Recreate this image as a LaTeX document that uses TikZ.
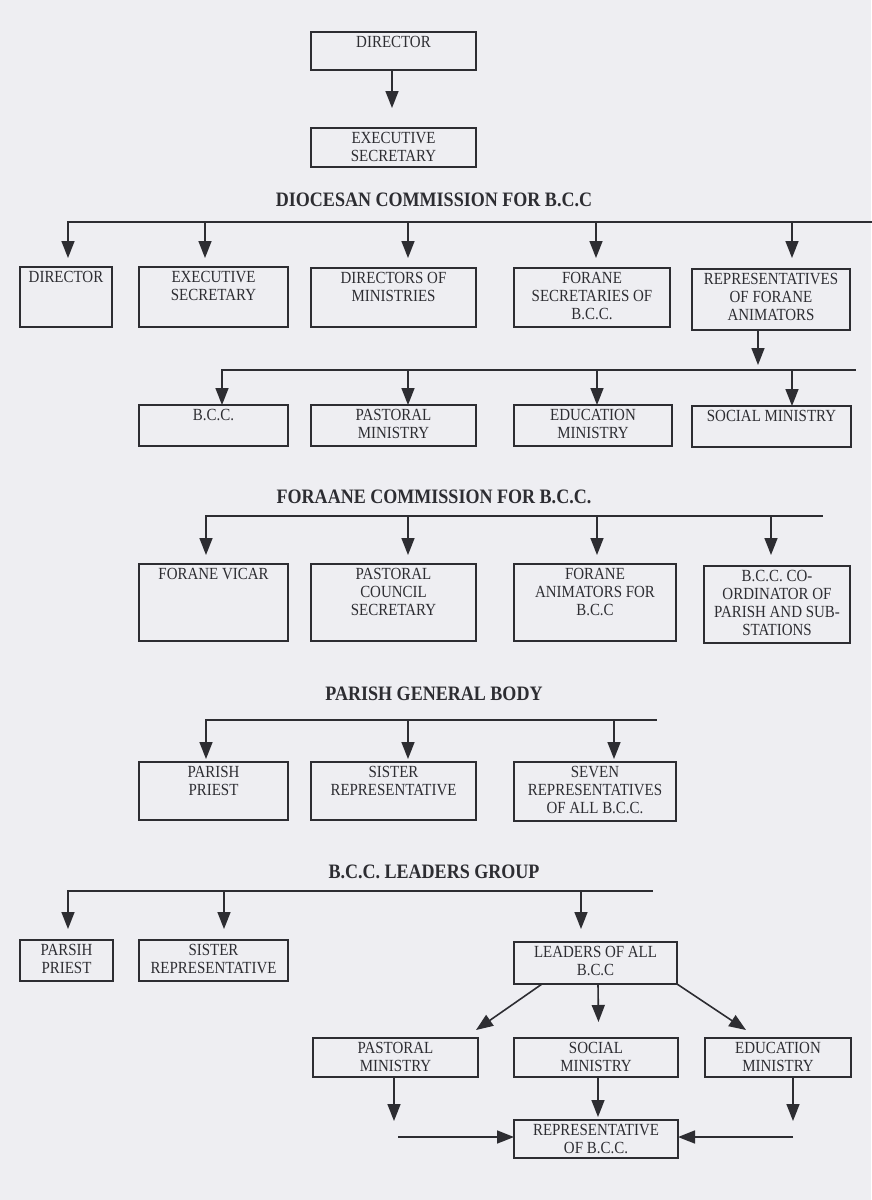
\documentclass[tikz,border=0pt]{standalone}
\usepackage{fontspec}
\setmainfont{Liberation Serif}[FakeStretch=0.88]
\usetikzlibrary{arrows.meta,calc}
\definecolor{bgc}{RGB}{238,238,242}
\definecolor{ink}{RGB}{45,45,50}
\tikzset{
  orgbox/.style={draw=ink, line width=1.2pt, inner sep=0pt, outer sep=0pt},
  orglbl/.style={anchor=north, align=center, font=\fontsize{17}{17.8}\selectfont, text=ink, inner sep=4.5pt},
  ttl/.style={font=\bfseries\fontsize{20.5}{22}\selectfont, text=ink},
  arr/.style={draw=ink, line width=1.6pt, -{Triangle[length=17pt,width=13pt]}},
  bus/.style={draw=ink, line width=1.7pt, line cap=rect},
}
% box: name, x1, y1, x2, y2, text
\newcommand{\obox}[6]{%
  \node[orgbox, minimum width={#4-#2}, minimum height={#5-#3}, anchor=north west] (#1) at (#2,#3) {};
  \node[orglbl] (#1t) at (#1.north) {#6};}
% drop arrow from bus to box: node, dx, bus coordinate, gap above box
\newcommand{\drop}[4]{%
  \draw[arr] ([xshift=#2pt]#1.north |- #3) -- ([xshift=#2pt,yshift=#4pt]#1.north);}
\begin{document}
\begin{tikzpicture}[x=1pt,y=-1pt]
\fill[bgc] (0,0) rectangle (871,1200);
\useasboundingbox (0,0) rectangle (871,1200);

% top
\obox{dir0}{311}{32}{476}{70}{DIRECTOR}
\obox{ex0}{311}{128}{476}{167}{EXECUTIVE\\SECRETARY}
\draw[arr, shorten >=20pt] ([xshift=-1.5pt]dir0.south) -- ([xshift=-1.5pt]ex0.north);

% diocesan commission
\node[ttl] (t1) at (434,200) {DIOCESAN COMMISSION FOR B.C.C};
\coordinate (b1L) at (68,222);
\coordinate (b1R) at (871,222);
\draw[bus] (b1L) -- (b1R);
\obox{d1}{20}{267}{112}{327}{DIRECTOR}
\obox{d2}{139}{267}{288}{327}{EXECUTIVE\\SECRETARY}
\obox{d3}{311}{268}{476}{327}{DIRECTORS OF\\MINISTRIES}
\obox{d4}{514}{268}{670}{327}{FORANE\\SECRETARIES OF\\B.C.C.}
\obox{d5}{692}{269}{850}{330}{REPRESENTATIVES\\OF FORANE\\ANIMATORS}
\drop{d1}{2}{b1L}{9}
\drop{d2}{-8.5}{b1L}{9}
\drop{d3}{14.5}{b1L}{10}
\drop{d4}{4}{b1L}{10}
\drop{d5}{21}{b1L}{11}

% ministries
\coordinate (b2L) at (222,370);
\coordinate (b2R) at (855,370);
\draw[arr] ([xshift=-13pt]d5.south) -- ([xshift=-13pt,yshift=5pt]d5.south |- b2L);
\draw[bus] (b2L) -- (b2R);
\obox{e1}{139}{405}{288}{446}{B.C.C.}
\obox{e2}{311}{405}{476}{446}{PASTORAL\\MINISTRY}
\obox{e3}{514}{405}{672}{446}{EDUCATION\\MINISTRY}
\obox{e4}{692}{406}{851}{447}{SOCIAL MINISTRY}
\drop{e1}{8.5}{b2L}{0}
\drop{e2}{14.5}{b2L}{0}
\drop{e3}{4}{b2L}{0}
\drop{e4}{20.5}{b2L}{0}

% forane commission
\node[ttl] (t2) at (434,497) {FORAANE COMMISSION FOR B.C.C.};
\coordinate (b3L) at (206,516);
\coordinate (b3R) at (822,516);
\draw[bus] (b3L) -- (b3R);
\obox{f1}{139}{564}{288}{641}{FORANE VICAR}
\obox{f2}{311}{564}{476}{641}{PASTORAL\\COUNCIL\\SECRETARY}
\obox{f3}{514}{564}{676}{641}{FORANE\\ANIMATORS FOR\\B.C.C}
\obox{f4}{704}{566}{850}{643}{B.C.C. CO-\\ORDINATOR OF\\PARISH AND SUB-\\STATIONS}
\drop{f1}{-7.5}{b3L}{9}
\drop{f2}{14.5}{b3L}{9}
\drop{f3}{2}{b3L}{9}
\drop{f4}{-6}{b3L}{11}

% parish general body
\node[ttl] (t3) at (434,694) {PARISH GENERAL BODY};
\coordinate (b4L) at (206,720);
\coordinate (b4R) at (656,720);
\draw[bus] (b4L) -- (b4R);
\obox{g1}{139}{762}{288}{820}{PARISH\\PRIEST}
\obox{g2}{311}{762}{476}{820}{SISTER\\REPRESENTATIVE}
\obox{g3}{514}{762}{676}{821}{SEVEN\\REPRESENTATIVES\\OF ALL B.C.C.}
\drop{g1}{-7.5}{b4L}{3}
\drop{g2}{14.5}{b4L}{3}
\drop{g3}{19}{b4L}{3}

% leaders group
\node[ttl] (t4) at (434,872) {B.C.C. LEADERS GROUP};
\coordinate (b5L) at (68,891);
\coordinate (b5R) at (652,891);
\draw[bus] (b5L) -- (b5R);
\obox{h1}{20}{940}{113}{981}{PARSIH\\PRIEST}
\obox{h2}{139}{940}{288}{981}{SISTER\\REPRESENTATIVE}
\obox{h3}{514}{942}{677}{984}{LEADERS OF ALL\\B.C.C}
\drop{h1}{1.5}{b5L}{11}
\drop{h2}{10.5}{b5L}{11}
\drop{h3}{-14.5}{b5L}{13}

% ministries under leaders
\obox{i1}{313}{1038}{478}{1077}{PASTORAL\\MINISTRY}
\obox{i2}{514}{1038}{678}{1077}{SOCIAL\\MINISTRY}
\obox{i3}{705}{1038}{851}{1077}{EDUCATION\\MINISTRY}
\coordinate (pL) at (476,1030);
\coordinate (pR) at (746,1030);
\draw[arr] ([xshift=-53.5pt]h3.south) -- (pL);
\draw[arr] ([xshift=2.5pt]h3.south) -- ([xshift=2.5pt,yshift=16pt]i2.north);
\draw[arr] (h3.south east) -- (pR);

% representative
\obox{j}{514}{1120}{678}{1158}{REPRESENTATIVE\\OF B.C.C.}
\draw[arr] ([xshift=2pt]i2.south) -- ([xshift=2pt,yshift=3pt]j.north);
\coordinate (pv) at (394,1121);
\coordinate (ph) at (398,1137);
\draw[arr] ([xshift=-1.5pt]i1.south) -- (pv);
\draw[arr] (ph) -- (ph -| j.west);
\coordinate (ev) at (793,1121);
\coordinate (eh) at (793,1137);
\draw[arr] ([xshift=15pt]i3.south) -- (ev);
\draw[arr] (eh) -- (eh -| j.east);
\end{tikzpicture}
\end{document}
